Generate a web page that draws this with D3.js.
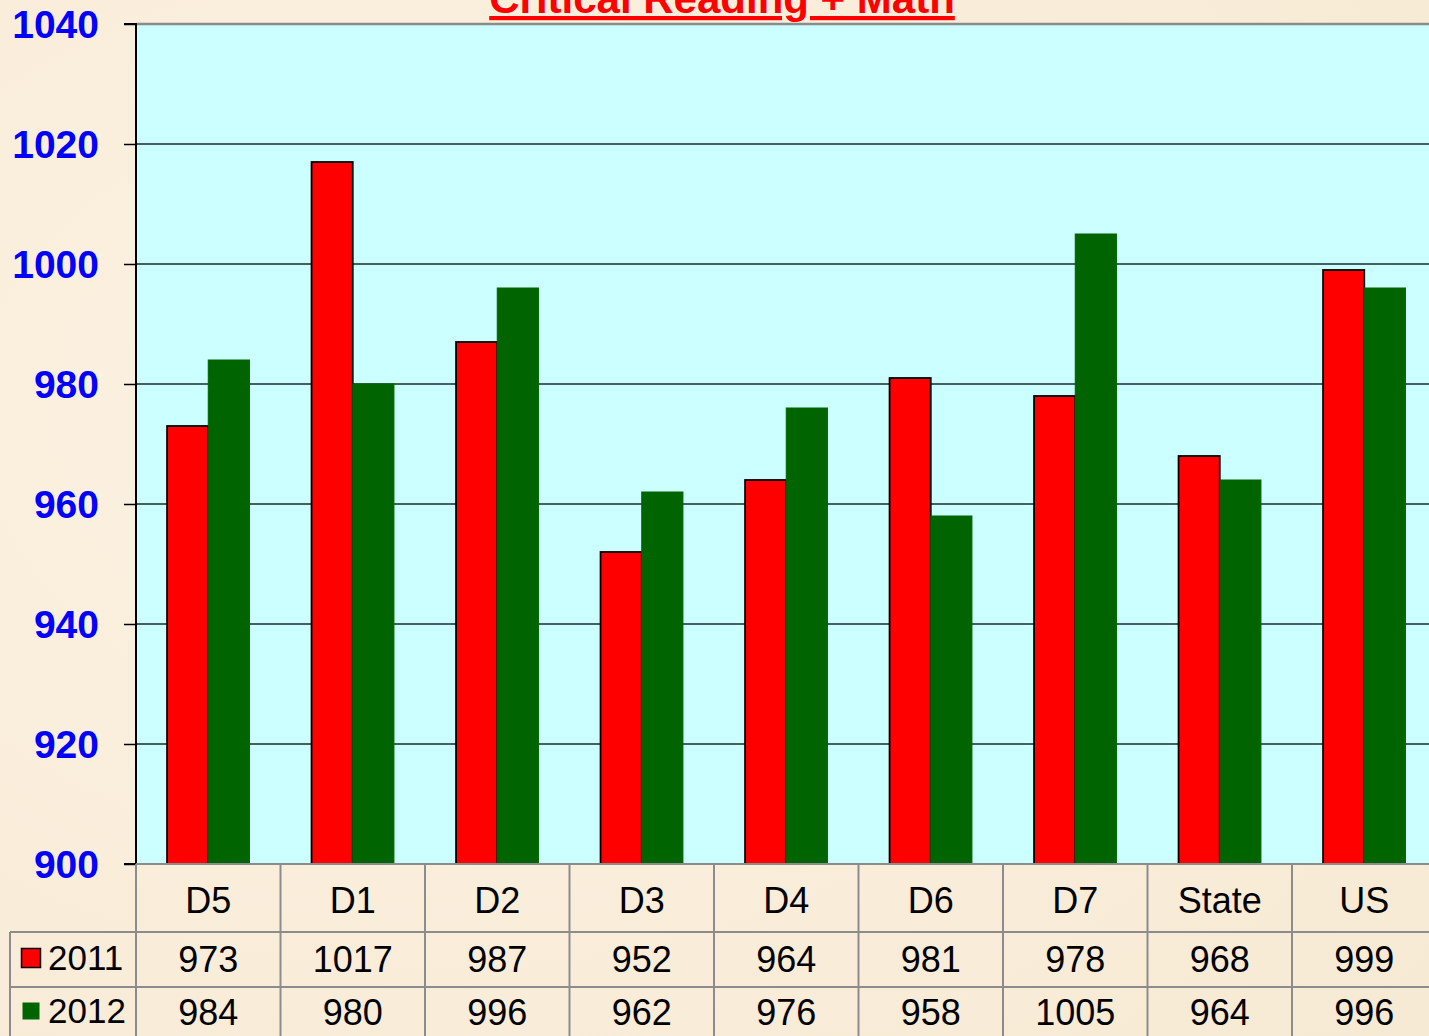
<!DOCTYPE html>
<html>
<head>
<meta charset="utf-8">
<script src="https://cdn.jsdelivr.net/npm/d3@7"></script>
<style>
  html, body { margin: 0; padding: 0; background: #f8ecd6; overflow: hidden; }
  svg { display: block; font-family: Arial, "Liberation Sans", sans-serif; }
</style>
</head>
<body>
<svg id="chart"></svg>
<script>
// chart data
const categories = ["D5", "D1", "D2", "D3", "D4", "D6", "D7", "State", "US"];
const seriesNames = ["2011", "2012"];
const values2011 = [973, 1017, 987, 952, 964, 981, 978, 968, 999];
const values2012 = [984, 980, 996, 962, 976, 958, 1005, 964, 996];
const yTicks = [900, 920, 940, 960, 980, 1000, 1020, 1040];

const seriesValues = [values2011, values2012];
const seriesColors = ["#ff0000", "#006400"];

const width = 1429, height = 1036;
const plotLeft = 136, plotTop = 24, plotBottom = 864;
const step = 144.5;
const plotRight = plotLeft + step * categories.length;

const svg = d3.select("#chart").attr("width", width).attr("height", height);

// plain background with a faint paper texture
const defs = svg.append("defs");
const grad = defs.append("radialGradient").attr("id", "paper").attr("cx", "30%").attr("cy", "40%").attr("r", "90%");
grad.append("stop").attr("offset", "0%").attr("stop-color", "#fcf2e2");
grad.append("stop").attr("offset", "100%").attr("stop-color", "#f7ead4");
svg.append("rect").attr("width", width).attr("height", height).attr("fill", "url(#paper)");

const x = d3.scaleBand()
    .domain(categories)
    .range([plotLeft, plotRight])
    .paddingInner(0.43)
    .paddingOuter(0.215);

const xs = d3.scaleBand()
    .domain(seriesNames)
    .range([0, x.bandwidth()]);

const y = d3.scaleLinear().domain([900, 1040]).range([plotBottom, plotTop]);

// plot area
svg.append("rect")
    .attr("x", plotLeft).attr("y", plotTop)
    .attr("width", plotRight - plotLeft).attr("height", plotBottom - plotTop)
    .attr("fill", "#ccffff");

// gridlines
svg.append("g")
    .selectAll("line")
    .data(yTicks.filter(d => d > 900 && d < 1040))
    .join("line")
    .attr("x1", plotLeft).attr("x2", plotRight)
    .attr("y1", d => y(d)).attr("y2", d => y(d))
    .attr("stroke", "#1a2a2a").attr("stroke-width", 1.6);

// top border of plot
svg.append("line")
    .attr("x1", plotLeft).attr("x2", plotRight)
    .attr("y1", y(1040)).attr("y2", y(1040))
    .attr("stroke", "#8a8a8a").attr("stroke-width", 2.5);

// bars
const groups = svg.append("g")
    .selectAll("g")
    .data(categories)
    .join("g")
    .attr("transform", d => `translate(${x(d)},0)`);

groups.selectAll("rect")
    .data((d, i) => seriesNames.map((s, j) => ({ s, v: seriesValues[j][i], j })))
    .join("rect")
    .attr("x", d => xs(d.s))
    .attr("width", xs.bandwidth())
    .attr("y", d => y(d.v))
    .attr("height", d => y(900) - y(d.v))
    .attr("fill", d => seriesColors[d.j])
    .attr("stroke", d => d.j === 0 ? "#000" : "#006400")
    .attr("stroke-width", d => d.j === 0 ? 1.8 : 1);

// y axis
const yAxis = d3.axisLeft(y).tickValues(yTicks).tickSize(12).tickPadding(25).tickFormat(d3.format("d"));
const ya = svg.append("g").attr("transform", `translate(${plotLeft},0)`).call(yAxis);
ya.select(".domain").attr("stroke", "#000").attr("stroke-width", 2).attr("d", `M-12,${plotTop}H0V${plotBottom}H-12`);
ya.selectAll(".tick line").attr("stroke", "#000").attr("stroke-width", 1.5);
ya.selectAll(".tick text")
    .attr("fill", "#0000ff")
    .attr("font-size", 39)
    .attr("font-weight", "bold")
    .attr("font-family", "Arial, 'Liberation Sans', sans-serif")
    .attr("dy", "0.35em");

// data table
const rowLines = [932, 987];
const tableBottom = 1040;
const gridColor = "#8c8c8c";
const table = svg.append("g");

table.append("line")
    .attr("x1", plotLeft).attr("x2", plotRight).attr("y1", plotBottom).attr("y2", plotBottom)
    .attr("stroke", gridColor).attr("stroke-width", 2);
table.selectAll("line.row")
    .data(rowLines)
    .join("line")
    .attr("class", "row")
    .attr("x1", 10).attr("x2", plotRight)
    .attr("y1", d => d).attr("y2", d => d)
    .attr("stroke", gridColor).attr("stroke-width", 2);

const colEdges = [plotLeft].concat(categories.map(c => x(c) + x.bandwidth() + x.step() * x.paddingInner() / 2));
table.selectAll("line.col")
    .data(colEdges)
    .join("line")
    .attr("class", "col")
    .attr("x1", d => d).attr("x2", d => d)
    .attr("y1", plotBottom).attr("y2", tableBottom)
    .attr("stroke", gridColor).attr("stroke-width", 2);
table.append("line")
    .attr("x1", 10).attr("x2", 10).attr("y1", rowLines[0]).attr("y2", tableBottom)
    .attr("stroke", gridColor).attr("stroke-width", 2);

const cx = d => x(d) + x.bandwidth() / 2;
table.selectAll("text.cat")
    .data(categories)
    .join("text")
    .attr("class", "cat")
    .attr("x", cx).attr("y", 900)
    .attr("dy", "0.35em")
    .attr("text-anchor", "middle")
    .attr("font-size", 36)
    .attr("fill", "#000")
    .text(d => d);

const rowCenters = [959, 1012];
seriesNames.forEach((s, j) => {
    table.selectAll(`text.v${j}`)
        .data(categories)
        .join("text")
        .attr("class", `v${j}`)
        .attr("x", cx).attr("y", rowCenters[j])
        .attr("dy", "0.35em")
        .attr("text-anchor", "middle")
        .attr("font-size", 36)
        .attr("fill", "#000")
        .text((d, i) => seriesValues[j][i]);

    // legend key + name
    const sz = j === 0 ? 19 : 17;
    table.append("rect")
        .attr("x", 31 - sz / 2).attr("y", rowCenters[j] - sz / 2 - 1)
        .attr("width", sz).attr("height", sz)
        .attr("fill", seriesColors[j])
        .attr("stroke", j === 0 ? "#000" : "none")
        .attr("stroke-width", 1.5);
    table.append("text")
        .attr("x", 48).attr("y", rowCenters[j] - 1)
        .attr("dy", "0.35em")
        .attr("font-size", 35)
        .attr("fill", "#000")
        .text(s);
});

// title (partly above the frame, as in the original)
svg.append("text")
    .attr("x", 722).attr("y", 13)
    .attr("text-anchor", "middle")
    .attr("font-size", 42)
    .attr("font-weight", "bold")
    .attr("fill", "#ff0000")
    .attr("text-decoration", "underline")
    .text("Critical Reading + Math");
</script>
</body>
</html>
